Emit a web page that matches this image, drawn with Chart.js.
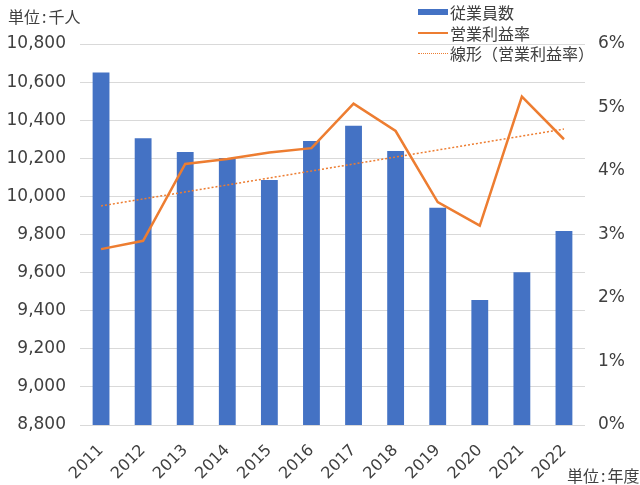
<!DOCTYPE html>
<html>
<head>
<meta charset="utf-8">
<script src="https://cdn.jsdelivr.net/npm/chart.js@4/dist/chart.umd.min.js"></script>
<style>
  html, body { margin: 0; padding: 0; background: #fff; }
  #wrap { position: relative; width: 640px; height: 485px; }
  canvas { position: absolute; left: 0; top: 0; }
  .note { position: absolute; font-family: "Noto Sans CJK JP", sans-serif; font-size: 16px; color: #404040; line-height: 1; white-space: nowrap; }
  .note .c { margin: 0 2px; }
  #legend { position: absolute; left: 418px; top: 2px; font-family: "Noto Sans CJK JP", sans-serif; font-size: 16px; color: #404040; }
  .li { display: flex; align-items: center; height: 20.5px; white-space: nowrap; }
  .sw { width: 30px; margin-right: 2px; }
</style>
</head>
<body>
<div id="wrap">
  <canvas id="c" width="640" height="485"></canvas>
  <div class="note" style="left:8px; top:8px;">単位<span class="c">:</span>千人</div>
  <div class="note" style="left:567px; top:467px;">単位<span class="c">:</span>年度</div>
  <div id="legend"></div>
</div>
<script>
const years = ['2011','2012','2013','2014','2015','2016','2017','2018','2019','2020','2021','2022'];
const employees = [10650, 10305, 10233, 10202, 10086, 10291, 10371, 10238, 9941, 9456, 9602, 9818];
const margin = [2.77, 2.90, 4.11, 4.19, 4.29, 4.36, 5.06, 4.63, 3.51, 3.14, 5.17, 4.50];
const trendEnds = [3.45, 4.66];
const seriesLabels = ['従業員数', '営業利益率', '線形（営業利益率）'];
const leftTicks = [8800, 10800, 200];
const rightTicks = [0, 6, 1];

const trend = years.map((y, i) => i === 0 ? trendEnds[0] : (i === years.length - 1 ? trendEnds[1] : null));

const tickFont = { family: 'DejaVu Sans, "Noto Sans CJK JP", sans-serif', size: 17 };
const chart = new Chart(document.getElementById('c'), {
  data: {
    labels: years,
    datasets: [
      { type: 'line', label: seriesLabels[1], data: margin, yAxisID: 'y1', borderColor: '#ED7D31', borderWidth: 2.5, pointRadius: 0, tension: 0, order: 1 },
      { type: 'line', label: seriesLabels[2], data: trend, yAxisID: 'y1', borderColor: '#ED7D31', borderWidth: 1.5, borderDash: [2, 2], pointRadius: 0, spanGaps: true, order: 0 },
      { type: 'bar', label: seriesLabels[0], data: employees, yAxisID: 'y', backgroundColor: '#4472C4', categoryPercentage: 1, barPercentage: 0.4, order: 2 }
    ]
  },
  options: {
    responsive: false,
    animation: false,
    layout: { padding: { top: 44, left: 0, right: 0, bottom: 0 } },
    plugins: { legend: { display: false }, tooltip: { enabled: false } },
    scales: {
      x: {
        grid: { display: false },
        border: { display: false },
        ticks: { color: '#404040', font: { family: 'DejaVu Sans, sans-serif', size: 16 }, minRotation: 45, maxRotation: 45, padding: 8 },
        afterFit: s => { s.height = 60; }
      },
      y: {
        position: 'left',
        min: leftTicks[0], max: leftTicks[1],
        grid: { color: '#D9D9D9', lineWidth: 1, drawTicks: false },
        border: { display: false },
        ticks: { stepSize: leftTicks[2], color: '#404040', font: tickFont, padding: 14, callback: v => v.toLocaleString('en-US') },
        afterFit: s => { s.width = 80; }
      },
      y1: {
        position: 'right',
        min: rightTicks[0], max: rightTicks[1],
        grid: { display: false, drawTicks: false },
        border: { display: false },
        ticks: { stepSize: rightTicks[2], color: '#404040', font: tickFont, padding: 13, callback: v => v + '%' },
        afterFit: s => { s.width = 55; }
      }
    }
  }
});

// HTML legend built from the chart's datasets
const legend = document.getElementById('legend');
const orderIdx = [2, 0, 1];
orderIdx.forEach(i => {
  const ds = chart.data.datasets[i];
  const row = document.createElement('div');
  row.className = 'li';
  const sw = document.createElement('span');
  sw.className = 'sw';
  if (ds.type === 'bar') {
    sw.style.height = '6px';
    sw.style.background = ds.backgroundColor;
  } else {
    sw.style.height = '0px';
    sw.style.borderTop = (ds.borderDash ? '1.5px dotted ' : '2.5px solid ') + ds.borderColor;
  }
  row.appendChild(sw);
  const t = document.createElement('span');
  t.textContent = ds.label;
  row.appendChild(t);
  legend.appendChild(row);
});
</script>
</body>
</html>
